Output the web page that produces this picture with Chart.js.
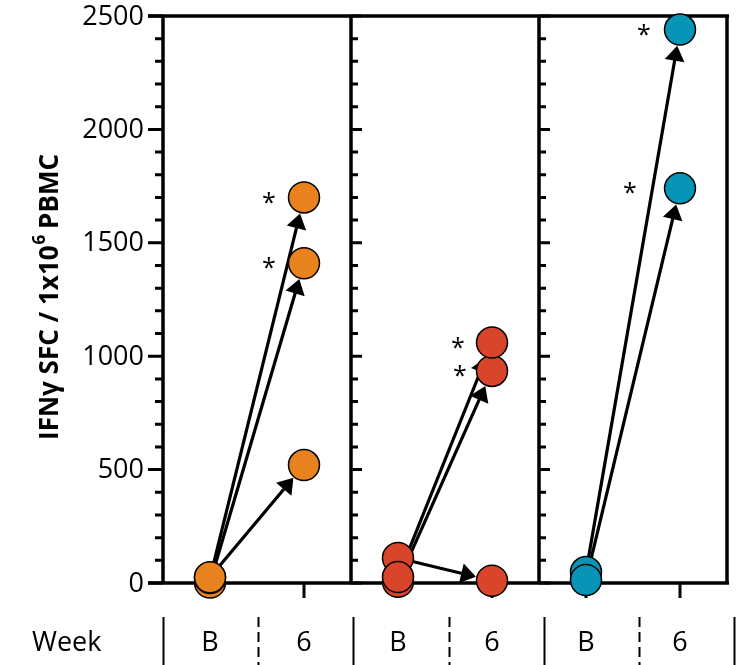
<!DOCTYPE html>
<html>
<head>
<meta charset="utf-8">
<script src="https://cdn.jsdelivr.net/npm/chart.js@4.4.0/dist/chart.umd.min.js"></script>
<style>
  html, body { margin: 0; padding: 0; background: #fff; }
  canvas { display: block; }
</style>
</head>
<body>
<canvas id="chart" width="736" height="665"></canvas>
<script>
const weekLabels = ["B", "6"];
const yTicks = [0, 500, 1000, 1500, 2000, 2500];
const minorStep = 100;

// baseline (B) and week 6 values, one entry per subject
const orangeB = [2, 22, 25];
const orange6 = [1410, 1700, 520];
const orangeStar = [true, true, false];

const redB = [5, 110, 26];
const red6 = [935, 10, 1060];
const redStar = [true, false, true];

const blueB = [48, 13];
const blue6 = [2440, 1740];
const blueStar = [true, true];

const FONT = "'Open Sans', sans-serif";

// panel = offset on the x scale (each panel is 4 units wide, B at +1, 6 at +3)
const groups = [
  { base: orangeB, wk6: orange6, star: orangeStar, color: "#E8821F", panel: 0, starGap: [35, 35, 35] },
  { base: redB, wk6: red6, star: redStar, color: "#D9452B", panel: 4, starGap: [32, 0, 34] },
  { base: blueB, wk6: blue6, star: blueStar, color: "#0894B6", panel: 8, starGap: [36, 50] }
];

function drawArrow(ctx, x0, y0, x1, y1) {
  const dx = x1 - x0, dy = y1 - y0;
  const len = Math.hypot(dx, dy);
  const ux = dx / len, uy = dy / len;
  const tipX = x1 - ux * 16.5, tipY = y1 - uy * 16.5;
  const L = 15, W = 10;
  const bx = tipX - ux * L, by = tipY - uy * L;
  ctx.lineWidth = 3.2;
  ctx.beginPath();
  ctx.moveTo(x0, y0);
  ctx.lineTo(bx + ux * 2, by + uy * 2);
  ctx.stroke();
  ctx.beginPath();
  ctx.moveTo(tipX, tipY);
  ctx.lineTo(bx - uy * W, by + ux * W);
  ctx.lineTo(bx + uy * W, by - ux * W);
  ctx.closePath();
  ctx.fill();
}

const panelPlugin = {
  id: "panels",
  beforeDatasetsDraw(chart) {
    const { ctx, chartArea: a, scales: { x, y } } = chart;
    ctx.save();
    ctx.strokeStyle = "#000";
    ctx.fillStyle = "#000";
    ctx.lineCap = "butt";

    // y ticks on the left axis (outside) and on the panel separators (inside)
    ctx.lineWidth = 3;
    for (let v = 0; v <= yTicks[yTicks.length - 1]; v += minorStep) {
      const py = y.getPixelForValue(v);
      const major = yTicks.includes(v);
      ctx.beginPath();
      ctx.moveTo(a.left - (major ? 15 : 8), py);
      ctx.lineTo(a.left, py);
      [4, 8].forEach(p => {
        const px = x.getPixelForValue(p);
        ctx.moveTo(px, py);
        ctx.lineTo(px + (major ? 11 : 7), py);
      });
      ctx.stroke();
    }

    // x ticks under each week position
    ctx.beginPath();
    groups.forEach(g => {
      [1, 3].forEach(o => {
        const px = x.getPixelForValue(g.panel + o);
        ctx.moveTo(px, a.bottom);
        ctx.lineTo(px, a.bottom + 15);
      });
    });
    ctx.stroke();

    // frame
    ctx.lineWidth = 3.5;
    ctx.beginPath();
    ctx.moveTo(a.left - 15, a.top);
    ctx.lineTo(a.right + 2, a.top);
    ctx.moveTo(a.left - 15, a.bottom);
    ctx.lineTo(a.right + 2, a.bottom);
    [0, 4, 8, 12].forEach(p => {
      const px = x.getPixelForValue(p);
      ctx.moveTo(px, a.top);
      ctx.lineTo(px, a.bottom);
    });
    ctx.stroke();

    // arrows from B to week 6
    groups.forEach(g => {
      g.base.forEach((v, i) => {
        drawArrow(ctx,
          x.getPixelForValue(g.panel + 1), y.getPixelForValue(v),
          x.getPixelForValue(g.panel + 3), y.getPixelForValue(g.wk6[i]));
      });
    });
    ctx.restore();
  },
  afterDraw(chart) {
    const { ctx, chartArea: a, scales: { x, y } } = chart;
    ctx.save();
    ctx.fillStyle = "#000";
    ctx.strokeStyle = "#000";

    // asterisks
    ctx.font = "25px " + FONT;
    ctx.textAlign = "center";
    ctx.textBaseline = "middle";
    groups.forEach(g => {
      g.wk6.forEach((v, i) => {
        if (!g.star[i]) return;
        ctx.fillText("*", x.getPixelForValue(g.panel + 3) - g.starGap[i], y.getPixelForValue(v) + 6);
      });
    });

    // y tick labels
    ctx.font = "27px " + FONT;
    ctx.textAlign = "right";
    yTicks.forEach(v => {
      ctx.fillText(String(v), a.left - 19, y.getPixelForValue(v) + 1);
    });

    // y axis title
    ctx.save();
    ctx.translate(49, 297);
    ctx.rotate(-Math.PI / 2);
    const big = "bold 26px " + FONT, small = "bold 17px " + FONT;
    const p1 = "IFNγ SFC / 1x10", p2 = "6", p3 = " PBMC";
    ctx.font = big;
    const w1 = ctx.measureText(p1).width, w3 = ctx.measureText(p3).width;
    ctx.font = small;
    const w2 = ctx.measureText(p2).width;
    let tx = -(w1 + w2 + w3) / 2;
    ctx.textAlign = "left";
    ctx.textBaseline = "alphabetic";
    ctx.font = big;
    ctx.fillText(p1, tx, 9);
    tx += w1;
    ctx.font = small;
    ctx.fillText(p2, tx + 1, -4);
    tx += w2;
    ctx.font = big;
    ctx.fillText(p3, tx, 9);
    ctx.restore();

    // week row
    const rowY = 643;
    ctx.font = "27px " + FONT;
    ctx.textBaseline = "middle";
    ctx.textAlign = "left";
    ctx.fillText("Week", 32, rowY);
    ctx.textAlign = "center";
    groups.forEach(g => {
      ctx.fillText(weekLabels[0], x.getPixelForValue(g.panel + 1), rowY);
      ctx.fillText(weekLabels[1], x.getPixelForValue(g.panel + 3), rowY);
    });
    ctx.lineWidth = 2;
    [0, 2, 4, 6, 8, 10, 12].forEach(p => {
      const px = Math.round(x.getPixelForValue(p) + (p / 12) * 7) + 0.5;
      ctx.setLineDash(p % 4 === 0 ? [] : [10, 5]);
      ctx.beginPath();
      ctx.moveTo(px, 617);
      ctx.lineTo(px, 665);
      ctx.stroke();
    });
    ctx.restore();
  }
};

const datasets = groups.map(g => ({
  data: g.base.map((v, i) => ({ x: g.panel + 1, y: v }))
    .concat(g.wk6.map(v => ({ x: g.panel + 3, y: v }))),
  backgroundColor: g.color,
  borderColor: "#000",
  borderWidth: 1.5,
  pointRadius: 15.5,
  pointHoverRadius: 15.5,
  clip: false
}));

new Chart(document.getElementById("chart"), {
  type: "scatter",
  data: { datasets },
  options: {
    responsive: false,
    animation: false,
    events: [],
    layout: { autoPadding: false, padding: { left: 163, right: 9, top: 16, bottom: 82 } },
    plugins: { legend: { display: false }, tooltip: { enabled: false } },
    scales: {
      x: { type: "linear", min: 0, max: 12, display: false },
      y: { min: 0, max: 2500, display: false }
    }
  },
  plugins: [panelPlugin]
});
</script>
</body>
</html>
